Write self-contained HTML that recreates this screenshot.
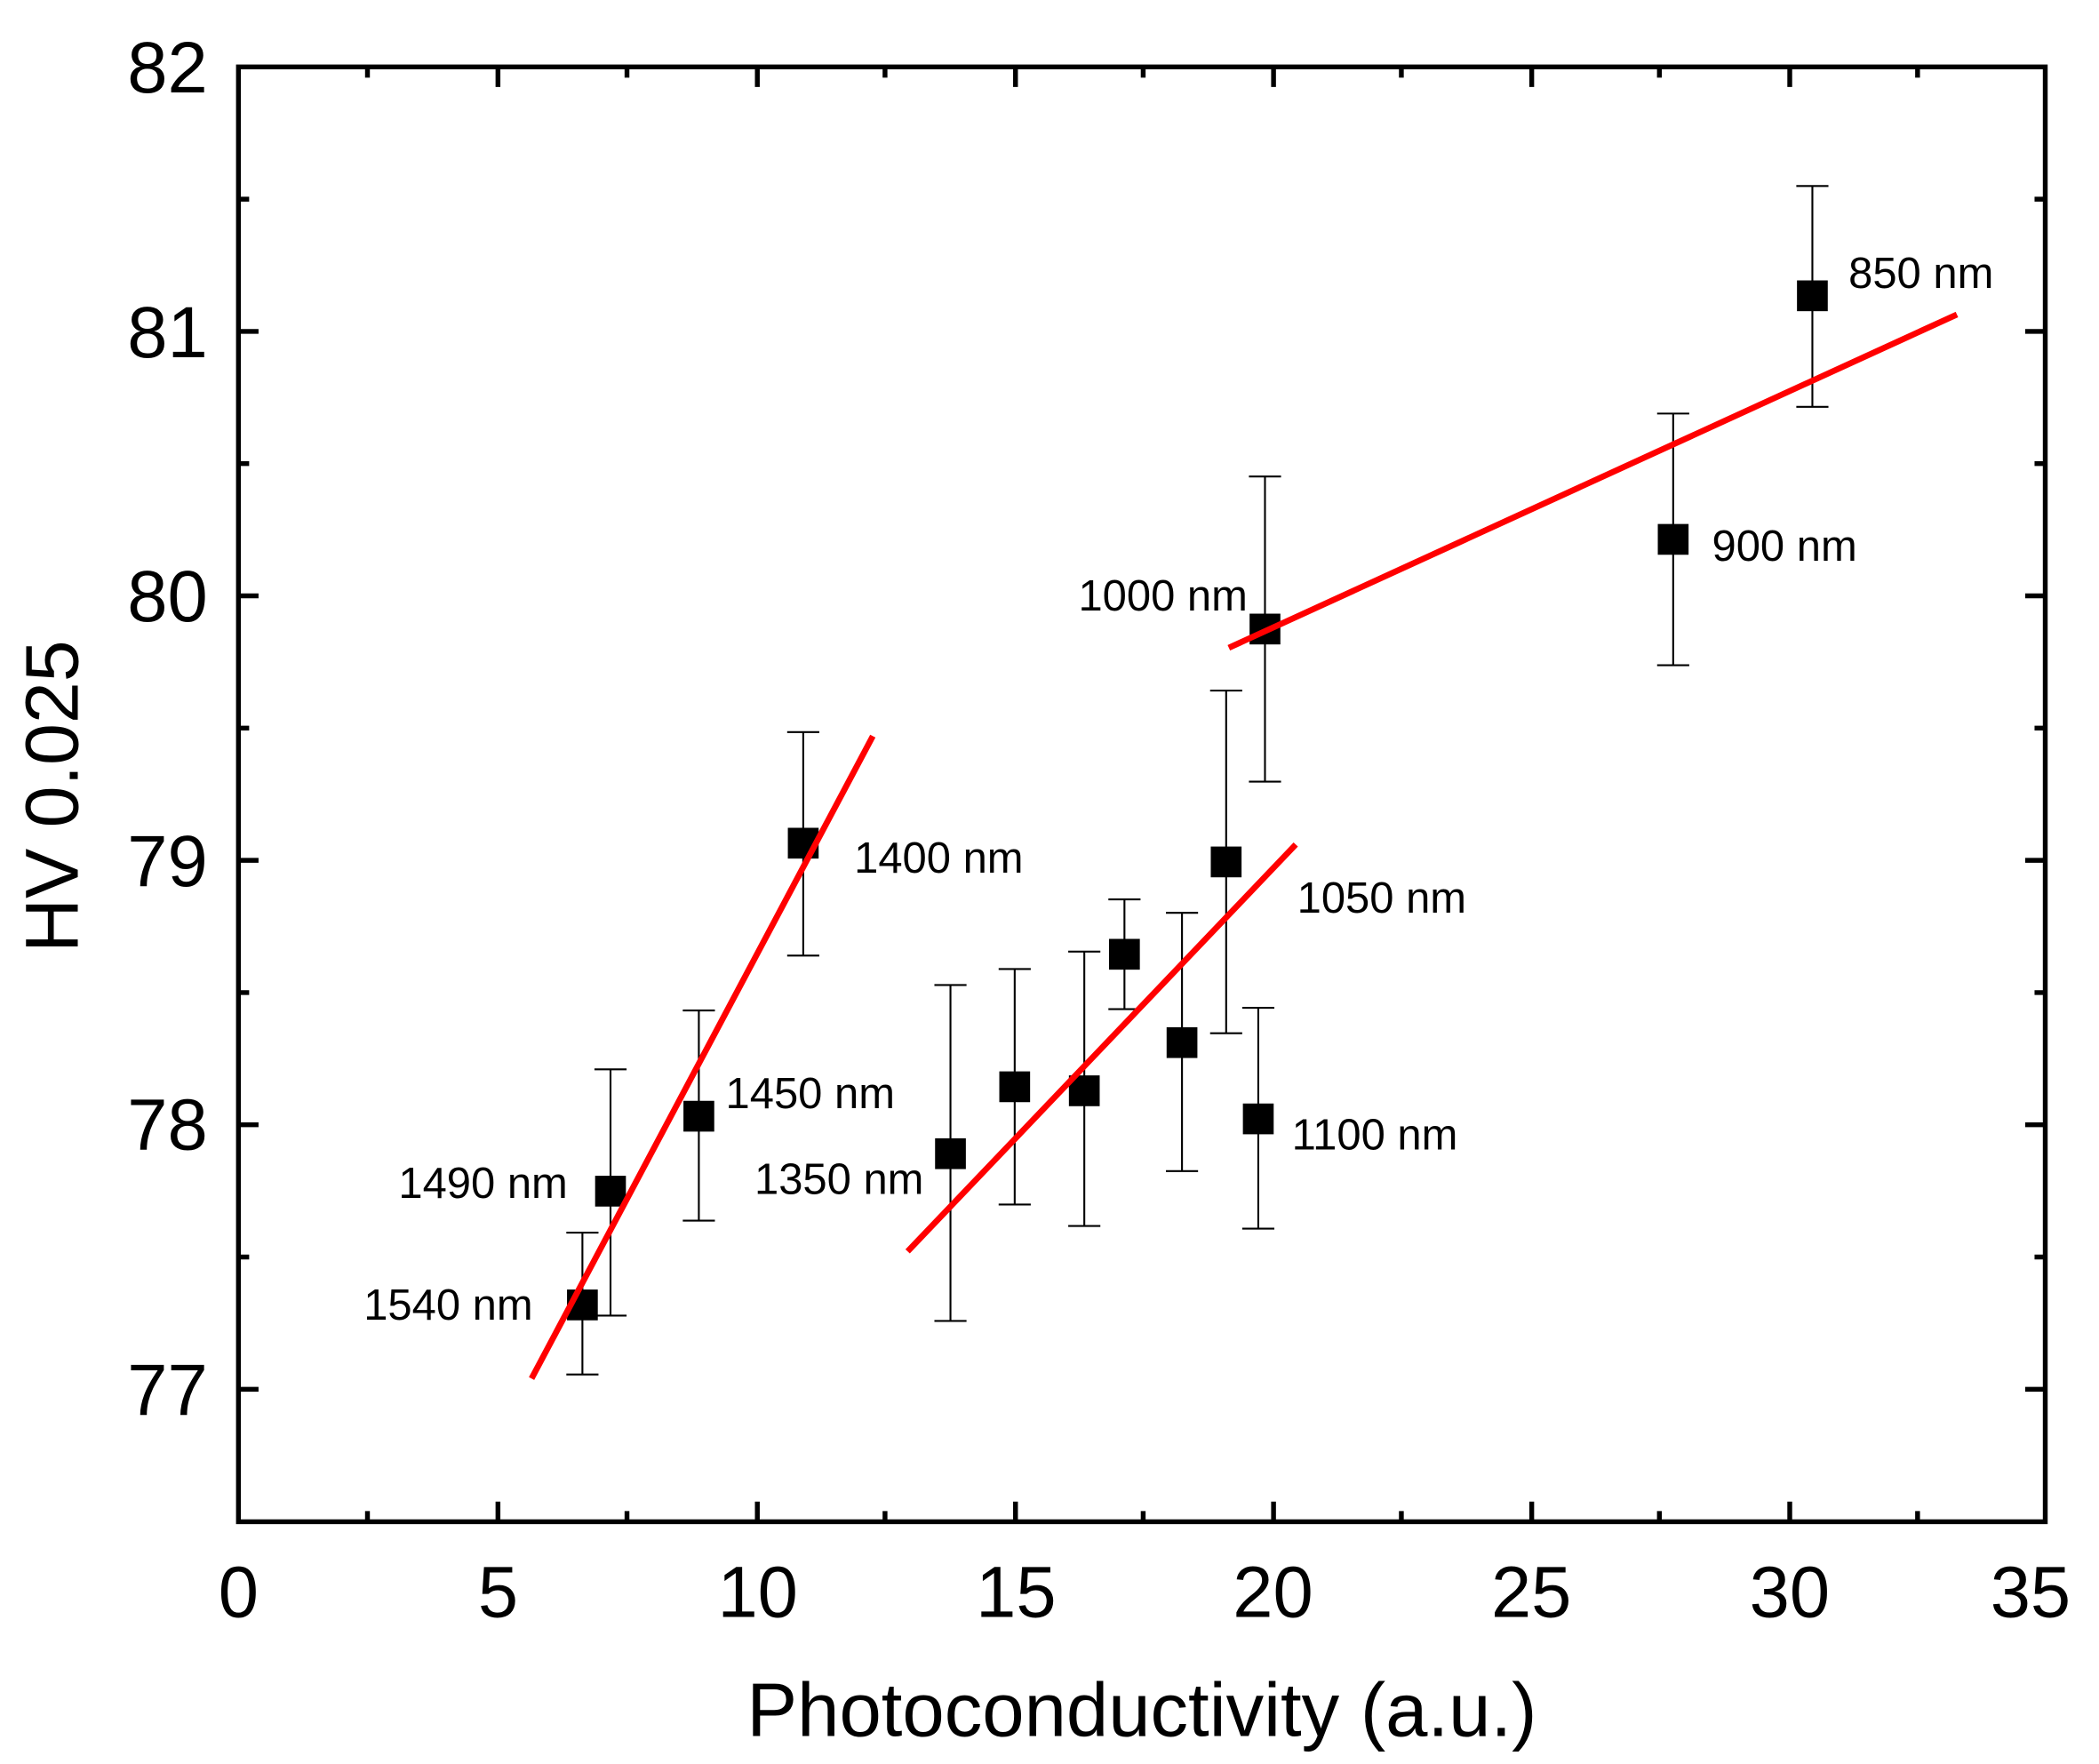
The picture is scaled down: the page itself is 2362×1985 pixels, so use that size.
<!DOCTYPE html>
<html><head><meta charset="utf-8"><style>html,body{margin:0;padding:0;background:#fff}svg{display:block}</style></head>
<body>
<svg width="2362" height="1985" viewBox="0 0 1568 1318" xmlns="http://www.w3.org/2000/svg" font-family="Liberation Sans, Arial, sans-serif">
<rect width="1568" height="1318" fill="#fff"/>
<g stroke="#000" stroke-width="3.6" fill="none">
<rect x="178" y="50" width="1350" height="1087"/>
<path d="M371.9,1137v-15M565.7,1137v-15M758.6,1137v-15M951.4,1137v-15M1144.3,1137v-15M1337.1,1137v-15
M274.4,1137v-8M468.3,1137v-8M661.1,1137v-8M854,1137v-8M1046.9,1137v-8M1239.7,1137v-8M1432.6,1137v-8
M371.9,50v15M565.7,50v15M758.6,50v15M951.4,50v15M1144.3,50v15M1337.1,50v15
M274.4,50v8M468.3,50v8M661.1,50v8M854,50v8M1046.9,50v8M1239.7,50v8M1432.6,50v8"/>
<path d="M178,1038h15M178,840.4h15M178,642.8h15M178,445.2h15M178,247.6h15
M178,939.2h8M178,741.6h8M178,544h8M178,346.4h8M178,148.8h8
M1528,1038h-15M1528,840.4h-15M1528,642.8h-15M1528,445.2h-15M1528,247.6h-15
M1528,939.2h-8M1528,741.6h-8M1528,544h-8M1528,346.4h-8M1528,148.8h-8"/>
</g>
<g font-size="54" text-anchor="middle" fill="#000">
<text x="178" y="1208">0</text><text x="372" y="1208">5</text><text x="566" y="1208">10</text>
<text x="759" y="1208">15</text><text x="951" y="1208">20</text><text x="1144" y="1208">25</text>
<text x="1337" y="1208">30</text><text x="1517" y="1208">35</text>
</g>
<g font-size="54" text-anchor="end" fill="#000">
<text x="155" y="1057">77</text><text x="155" y="859">78</text><text x="155" y="662">79</text>
<text x="155" y="464">80</text><text x="155" y="267">81</text><text x="155" y="69">82</text>
</g>
<text x="853" y="1297" font-size="56.5" text-anchor="middle">Photoconductivity (a.u.)</text>
<text transform="translate(58,595) rotate(-90)" font-size="56" text-anchor="middle">HV 0.025</text>
<g stroke="#000" stroke-width="1.4">
<path d="M435,921V1027M423,921h24M423,1027h24"/>
<path d="M456,799V983M444,799h24M444,983h24"/>
<path d="M522,755V912M510,755h24M510,912h24"/>
<path d="M600,547V714M588,547h24M588,714h24"/>
<path d="M710,736V987M698,736h24M698,987h24"/>
<path d="M758,724V900M746,724h24M746,900h24"/>
<path d="M810,711V916M798,711h24M798,916h24"/>
<path d="M840,672V754M828,672h24M828,754h24"/>
<path d="M883,682V875M871,682h24M871,875h24"/>
<path d="M916,516V772M904,516h24M904,772h24"/>
<path d="M940,753V918M928,753h24M928,918h24"/>
<path d="M945,356V584M933,356h24M933,584h24"/>
<path d="M1250,309V497M1238,309h24M1238,497h24"/>
<path d="M1354,139V304M1342,139h24M1342,304h24"/>
</g>
<g fill="#000">
<rect x="423.5" y="963.5" width="23" height="23"/>
<rect x="444.5" y="878.5" width="23" height="23"/>
<rect x="510.5" y="822.5" width="23" height="23"/>
<rect x="588.5" y="618.5" width="23" height="23"/>
<rect x="698.5" y="850.5" width="23" height="23"/>
<rect x="746.5" y="800.5" width="23" height="23"/>
<rect x="798.5" y="803.5" width="23" height="23"/>
<rect x="828.5" y="701.5" width="23" height="23"/>
<rect x="871.5" y="767.5" width="23" height="23"/>
<rect x="904.5" y="632.5" width="23" height="23"/>
<rect x="928.5" y="824.5" width="23" height="23"/>
<rect x="933.5" y="458.5" width="23" height="23"/>
<rect x="1238.5" y="391.5" width="23" height="23"/>
<rect x="1342.5" y="209.5" width="23" height="23"/>
</g>
<g stroke="#f00" stroke-width="4.5">
<line x1="397" y1="1030" x2="652" y2="550"/>
<line x1="678" y1="935" x2="968" y2="631"/>
<line x1="918" y1="484" x2="1462" y2="235"/>
</g>
<g font-size="32.5" fill="#000">
<text x="398" y="986" text-anchor="end">1540 nm</text>
<text x="424" y="895" text-anchor="end">1490 nm</text>
<text x="542" y="828">1450 nm</text>
<text x="638" y="652">1400 nm</text>
<text x="690" y="892" text-anchor="end">1350 nm</text>
<text x="969" y="682">1050 nm</text>
<text x="965" y="859">1100 nm</text>
<text x="932" y="456" text-anchor="end">1000 nm</text>
<text x="1279" y="419">900 nm</text>
<text x="1381" y="215">850 nm</text>
</g>
</svg>
</body></html>
